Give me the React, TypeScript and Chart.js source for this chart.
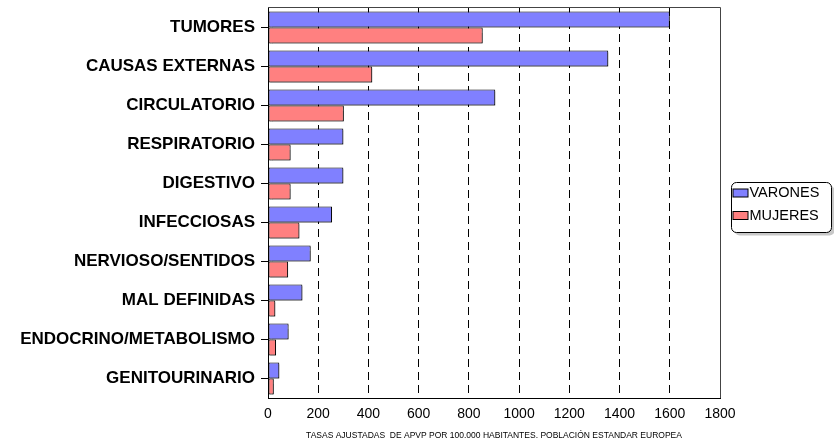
import React, { useEffect, useRef } from "react";
import { Chart, registerables } from "chart.js";

Chart.register(...registerables);

const categories = [
  "TUMORES",
  "CAUSAS EXTERNAS",
  "CIRCULATORIO",
  "RESPIRATORIO",
  "DIGESTIVO",
  "INFECCIOSAS",
  "NERVIOSO/SENTIDOS",
  "MAL DEFINIDAS",
  "ENDOCRINO/METABOLISMO",
  "GENITOURINARIO",
];
const varones = [1600, 1355, 905, 300, 300, 255, 170, 137, 82, 45];
const mujeres = [855, 415, 302, 90, 90, 125, 80, 29, 32, 23];
const xTitle =
  "TASAS AJUSTADAS  DE APVP POR 100.000 HABITANTES. POBLACIÓN ESTANDAR EUROPEA";
const FONT = "'Liberation Sans', Arial, Helvetica, sans-serif";

const frameAndLegend = {
  id: "frameAndLegend",
  beforeDatasetsDraw(chart: any) {
    const ctx = chart.ctx;
    ctx.save();
    ctx.shadowColor = "rgba(0,0,0,0.35)";
    ctx.shadowOffsetX = 1.5;
    ctx.shadowOffsetY = 1.5;
    ctx.shadowBlur = 1;
  },
  afterDatasetsDraw(chart: any) {
    chart.ctx.restore();
  },
  afterDraw(chart: any) {
    const ctx = chart.ctx;
    const a = chart.chartArea;
    ctx.save();
    ctx.strokeStyle = "#444";
    ctx.lineWidth = 1;
    ctx.beginPath();
    ctx.moveTo(a.left, a.top - 0.5);
    ctx.lineTo(a.right + 0.5, a.top - 0.5);
    ctx.lineTo(a.right + 0.5, a.bottom);
    ctx.stroke();

    const bx = a.right + 11.5;
    const by = 182.5;
    const bw = 100;
    const bh = 50;
    const r = 5;
    const rr = (x: number, y: number) => {
      ctx.beginPath();
      ctx.moveTo(x + r, y);
      ctx.lineTo(x + bw - r, y);
      ctx.arcTo(x + bw, y, x + bw, y + r, r);
      ctx.lineTo(x + bw, y + bh - r);
      ctx.arcTo(x + bw, y + bh, x + bw - r, y + bh, r);
      ctx.lineTo(x + r, y + bh);
      ctx.arcTo(x, y + bh, x, y + bh - r, r);
      ctx.lineTo(x, y + r);
      ctx.arcTo(x, y, x + r, y, r);
      ctx.closePath();
    };
    rr(bx + 3, by + 3);
    ctx.fillStyle = "#c8c8c8";
    ctx.fill();
    rr(bx, by);
    ctx.fillStyle = "#fff";
    ctx.fill();
    ctx.strokeStyle = "#000";
    ctx.stroke();

    const ds = chart.data.datasets;
    ctx.font = `14.5px ${FONT}`;
    ctx.textBaseline = "middle";
    ctx.textAlign = "left";
    ds.forEach((d: any, i: number) => {
      const cy = 193 + i * 22.5;
      ctx.fillStyle = d.backgroundColor;
      ctx.fillRect(bx + 1.5, cy - 4, 15, 8);
      ctx.strokeStyle = "#000";
      ctx.strokeRect(bx + 1.5, cy - 4, 15, 8);
      ctx.fillStyle = "#000";
      ctx.fillText(d.label, bx + 18, cy);
    });
    ctx.restore();
  },
};

export default function App() {
  const ref = useRef<HTMLCanvasElement | null>(null);

  useEffect(() => {
    if (!ref.current) return;
    const chart = new Chart(ref.current, {
      type: "bar",
      data: {
        labels: categories,
        datasets: [
          {
            label: "VARONES",
            data: varones,
            backgroundColor: "#8080FF",
            borderColor: "#000",
            borderWidth: 1,
            borderSkipped: false,
          },
          {
            label: "MUJERES",
            data: mujeres,
            backgroundColor: "#FF8080",
            borderColor: "#000",
            borderWidth: 1,
            borderSkipped: false,
          },
        ],
      },
      options: {
        indexAxis: "y",
        animation: false,
        responsive: true,
        maintainAspectRatio: false,
        layout: { padding: { left: 0, top: 8, right: 114, bottom: 0 } },
        datasets: {
          bar: { categoryPercentage: 0.82, barPercentage: 1 },
        },
        plugins: {
          legend: { display: false },
          tooltip: { enabled: false },
        },
        scales: {
          x: {
            min: 0,
            max: 1800,
            ticks: {
              stepSize: 200,
              color: "#000",
              padding: 8,
              font: { family: FONT, size: 14 },
              callback: (v: any) => String(v),
            },
            grid: {
              color: (c: any) => (c.tick && c.tick.value === 0 ? "rgba(0,0,0,0)" : "#000"),
              drawTicks: false,
            },
            border: { color: "#000", width: 1, dash: [8, 5] },
            title: {
              display: true,
              text: xTitle,
              color: "#000",
              font: { family: FONT, size: 8.5 },
              padding: { top: 4, bottom: 5 },
            },
            afterFit: (s: any) => {
              s.height = 48;
              s.paddingLeft = 0;
            },
          },
          y: {
            ticks: {
              color: "#000",
              padding: 6,
              font: { family: FONT, size: 17, weight: "bold" },
            },
            grid: {
              offset: false,
              drawOnChartArea: false,
              tickLength: 7,
              color: "#000",
            },
            border: { color: "#000", width: 1 },
            afterFit: (s: any) => {
              s.width = 268;
              s.paddingTop = 0;
              s.paddingBottom = 0;
            },
          },
        },
      },
      plugins: [frameAndLegend],
    } as any);
    return () => chart.destroy();
  }, []);

  return (
    <div style={{ position: "fixed", left: 0, top: 0, width: 834, height: 446, background: "#fff" }}>
      <canvas ref={ref} />
    </div>
  );
}
